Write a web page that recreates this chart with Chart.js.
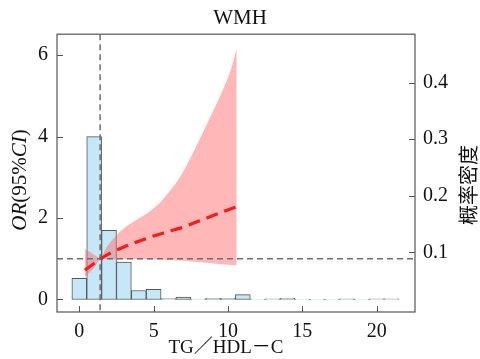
<!DOCTYPE html>
<html><head><meta charset="utf-8">
<script src="https://cdn.jsdelivr.net/npm/chart.js@4/dist/chart.umd.min.js"></script>
<style>html,body{margin:0;padding:0;background:#fff}#wrap{width:480px;height:359px}</style>
</head><body><div id="wrap"><canvas id="c" width="480" height="359"></canvas></div>
<script>
// ---- data ----
const chartTitle = 'WMH';
const xTitle = 'TG／HDL－C';
const rightTitle = '概率密度';
const xTicks = [0, 5, 10, 15, 20];
const orTicks = [0, 2, 4, 6];
const densityTicks = [0.1, 0.2, 0.3, 0.4];

// histogram (bin centres, heights in OR-axis units)
const histCenters = [0,1,2,3,4,5,6,7,8,9,10,11,12,13,14,15,16,17,18,19,20,21];
const histHeights = [0.52,4.0,1.70,0.92,0.22,0.25,0.02,0.06,0.01,0.03,0.03,0.12,0.004,0.015,0.03,0.004,0.004,0.004,0.015,0.004,0.015,0.015];

// restricted cubic spline OR curve
const lineX  = [0.38,0.9,1.44,2.2,3.0,4.0,5.0,6.0,7.0,8.0,9.0,10.0,10.54];
const lineOR = [0.72,0.86,1.0,1.16,1.29,1.43,1.56,1.67,1.78,1.92,2.06,2.20,2.27];

// 95% CI band
const bandX     = [0.38,0.7,1.0,1.2,1.44,1.7,2.0,2.5,3.0,3.6,4.2,4.8,5.4,6.0,6.8,7.4,8.0,8.6,9.2,9.8,10.2,10.59];
const bandUpper = [1.24,1.17,1.10,1.05,1.0,1.20,1.36,1.58,1.75,1.90,2.03,2.18,2.37,2.62,3.02,3.42,3.86,4.32,4.78,5.27,5.65,6.16];
const bandLower = [0.55,0.66,0.78,0.89,1.0,1.0,0.99,0.99,0.99,0.99,0.99,0.98,0.98,0.97,0.96,0.94,0.92,0.90,0.88,0.86,0.85,0.84];

const refOR = 1;     // horizontal reference
const refX = 1.4;    // vertical reference (cut-off)

// ---- chart ----
const SERIF = '"Liberation Serif", "Times New Roman", serif';
const pts = (xs, ys) => xs.map((v, i) => ({x: v, y: ys[i]}));

const decor = {
  id: 'decor',
  beforeDatasetDraw(chart, args) {
    if (args.index !== 3) return;
    const {ctx, chartArea: a, scales: {x, y}} = chart;
    ctx.save();
    ctx.strokeStyle = '#6e6e6e'; ctx.lineWidth = 1.5; ctx.setLineDash([6, 4]);
    const py = y.getPixelForValue(refOR);
    ctx.beginPath(); ctx.moveTo(a.left, py); ctx.lineTo(a.right, py); ctx.stroke();
    const px = x.getPixelForValue(refX);
    ctx.beginPath(); ctx.moveTo(px, a.top); ctx.lineTo(px, a.bottom); ctx.stroke();
    ctx.restore();
  },
  afterDraw(chart) {
    const {ctx, chartArea: a, scales: {x, y, y2}} = chart;
    ctx.save();
    ctx.strokeStyle = '#555'; ctx.lineWidth = 1.2; ctx.setLineDash([]);
    ctx.strokeRect(a.left, a.top, a.right - a.left, a.bottom - a.top);
    ctx.lineWidth = 1;
    const T = 6;
    ctx.beginPath();
    orTicks.forEach(v => { const p = Math.round(y.getPixelForValue(v)) + 0.5; ctx.moveTo(a.left, p); ctx.lineTo(a.left + T, p); });
    densityTicks.forEach(v => { const p = Math.round(y2.getPixelForValue(v)) + 0.5; ctx.moveTo(a.right, p); ctx.lineTo(a.right - T, p); });
    xTicks.forEach(v => { const p = Math.round(x.getPixelForValue(v)) + 0.5; ctx.moveTo(p, a.bottom); ctx.lineTo(p, a.bottom - T); });
    ctx.stroke();

    ctx.fillStyle = '#111';
    // left title with italic parts
    const parts = [{t: 'OR', i: true}, {t: '(95%', i: false}, {t: 'CI', i: true}, {t: ')', i: false}];
    const size = 21;
    let total = 0;
    parts.forEach(p => { ctx.font = (p.i ? 'italic ' : '') + size + 'px ' + SERIF; p.w = ctx.measureText(p.t).width; total += p.w; });
    ctx.save();
    ctx.translate(26, 180);
    ctx.rotate(-Math.PI / 2);
    ctx.textBaseline = 'alphabetic'; ctx.textAlign = 'left';
    let xx = -total / 2;
    parts.forEach(p => { ctx.font = (p.i ? 'italic ' : '') + size + 'px ' + SERIF; ctx.fillText(p.t, xx, 0); xx += p.w; });
    ctx.restore();

    // right title
    ctx.save();
    ctx.translate(476, 185);
    ctx.rotate(-Math.PI / 2);
    ctx.font = '20px "Noto Sans CJK SC"';
    ctx.textAlign = 'center'; ctx.textBaseline = 'alphabetic';
    ctx.fillText(rightTitle, 0, 0);
    ctx.restore();

    // x title
    ctx.font = '19px ' + SERIF + ', "Noto Sans CJK SC"';
    ctx.textAlign = 'center'; ctx.textBaseline = 'alphabetic';
    ctx.fillText(xTitle, 226, 353);
    ctx.restore();
  }
};

const tickFont = {family: SERIF, size: 20};
const noGrid = {display: false, drawTicks: false};

new Chart(document.getElementById('c'), {
  type: 'bar',
  data: {
    datasets: [
      {
        type: 'bar', label: 'hist', data: pts(histCenters, histHeights),
        backgroundColor: '#c6e7f7', borderColor: '#555', borderWidth: 1, borderSkipped: false,
        barPercentage: 1, categoryPercentage: 1, xAxisID: 'x', yAxisID: 'y', order: 5
      },
      {
        type: 'line', label: 'upper', data: pts(bandX, bandUpper),
        borderWidth: 0, pointRadius: 0, fill: false, cubicInterpolationMode: 'monotone',
        borderColor: 'rgba(0,0,0,0)', xAxisID: 'x', yAxisID: 'y', order: 4
      },
      {
        type: 'line', label: 'lower', data: pts(bandX, bandLower),
        borderWidth: 0, pointRadius: 0, fill: '-1', cubicInterpolationMode: 'monotone',
        borderColor: 'rgba(0,0,0,0)', backgroundColor: 'rgba(255,95,95,0.45)', xAxisID: 'x', yAxisID: 'y', order: 3
      },
      {
        type: 'line', label: 'OR', data: pts(lineX, lineOR),
        borderColor: '#f51c1c', borderWidth: 3.2, borderDash: [12, 7], pointRadius: 0,
        cubicInterpolationMode: 'monotone', fill: false, xAxisID: 'x', yAxisID: 'y', order: 1
      }
    ]
  },
  options: {
    responsive: false, animation: false, devicePixelRatio: 1,
    layout: {padding: 0},
    plugins: {
      legend: {display: false}, tooltip: {enabled: false},
      title: {display: true, text: chartTitle, color: '#111', font: {family: SERIF, size: 21, weight: 'normal'}, padding: {top: 6, bottom: 3}}
    },
    scales: {
      x: {
        type: 'linear', min: -1.5, max: 22.58, offset: false,
        grid: noGrid, border: {display: false},
        ticks: {font: tickFont, color: '#111', padding: 8, maxRotation: 0},
        afterBuildTicks: s => { s.ticks = xTicks.map(v => ({value: v})); },
        afterFit: s => { s.height = 47; }
      },
      y: {
        type: 'linear', position: 'left', min: -0.307, max: 6.515,
        grid: noGrid, border: {display: false},
        ticks: {font: tickFont, color: '#111', padding: 9},
        afterBuildTicks: s => { s.ticks = orTicks.map(v => ({value: v})); },
        afterFit: s => { s.width = 57; }
      },
      y2: {
        type: 'linear', position: 'right', min: -0.0053, max: 0.4853,
        grid: noGrid, border: {display: false},
        ticks: {font: tickFont, color: '#111', padding: 8, callback: v => v.toFixed(1)},
        afterBuildTicks: s => { s.ticks = densityTicks.map(v => ({value: v})); },
        afterFit: s => { s.width = 65; }
      }
    }
  },
  plugins: [decor]
});
</script>
</body></html>
